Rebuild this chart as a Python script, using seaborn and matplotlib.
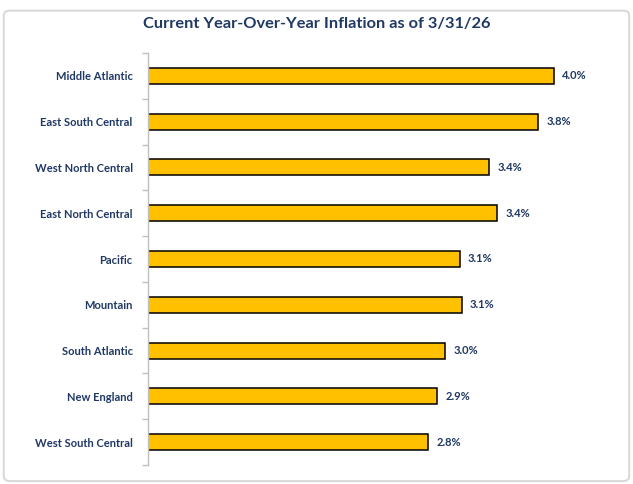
import numpy as np
import pandas as pd
import matplotlib.pyplot as plt
import seaborn as sns
from matplotlib.patches import FancyBboxPatch

# data
regions = ["Middle Atlantic", "East South Central", "West North Central",
           "East North Central", "Pacific", "Mountain", "South Atlantic",
           "New England", "West South Central"]
inflation = [4.00, 3.84, 3.36, 3.44, 3.07, 3.09, 2.93, 2.85, 2.76]
bar_labels = ["4.0%", "3.8%", "3.4%", "3.4%", "3.1%", "3.1%", "3.0%", "2.9%", "2.8%"]

df = pd.DataFrame({"region": regions, "yoy": inflation})

navy = "#1F3864"
gold = "#FFC000"

sns.set_style("white")
plt.rcParams['font.family'] = ['Lato', 'DejaVu Sans']

fig = plt.figure(figsize=(6.33, 4.84), dpi=100)
ax = fig.add_axes([148 / 633, 1 - 465 / 484, (600 - 148) / 633, 412 / 484])

sns.barplot(data=df, x="yoy", y="region", orient="h", color=gold, saturation=1,
            edgecolor="black", linewidth=1.1, width=0.35, ax=ax)

ax.set_xlim(0, 4.0 * 452 / 406)
ax.set_ylim(len(regions) - 0.5, -0.5)
ax.set_xlabel("")
ax.set_ylabel("")
ax.xaxis.set_visible(False)

for s in ["top", "right", "bottom"]:
    ax.spines[s].set_visible(False)
ax.spines["left"].set_color("#BFBFBF")
ax.spines["left"].set_linewidth(1)

# category labels
ax.tick_params(axis="y", which="major", length=0, pad=11)
for t in ax.get_yticklabels():
    t.set_fontweight("bold")
    t.set_color(navy)
    t.set_fontsize(8)
# small gray ticks between categories
ax.set_yticks(np.arange(len(regions) + 1) - 0.5, minor=True)
ax.tick_params(axis="y", which="minor", left=True, length=4, color="#BFBFBF", width=1)

# value labels
for i, (v, lab) in enumerate(zip(inflation, bar_labels)):
    ax.annotate(lab, (v, i), xytext=(6, 0), textcoords="offset points",
                va="center", ha="left", fontsize=8, fontweight="bold", color=navy)

fig.text(0.5, 0.951, "Current Year-Over-Year Inflation as of 3/31/26", ha="center", va="center",
         fontsize=11.8, fontweight="bold", color=navy)

# outer border
fig.patches.append(FancyBboxPatch((0.006, 0.006), 0.988, 0.972, boxstyle="round,pad=0,rounding_size=0.01",
                                  transform=fig.transFigure, fill=False, edgecolor="#D9D9D9", linewidth=1.5))

plt.savefig("out.png", dpi=100)
